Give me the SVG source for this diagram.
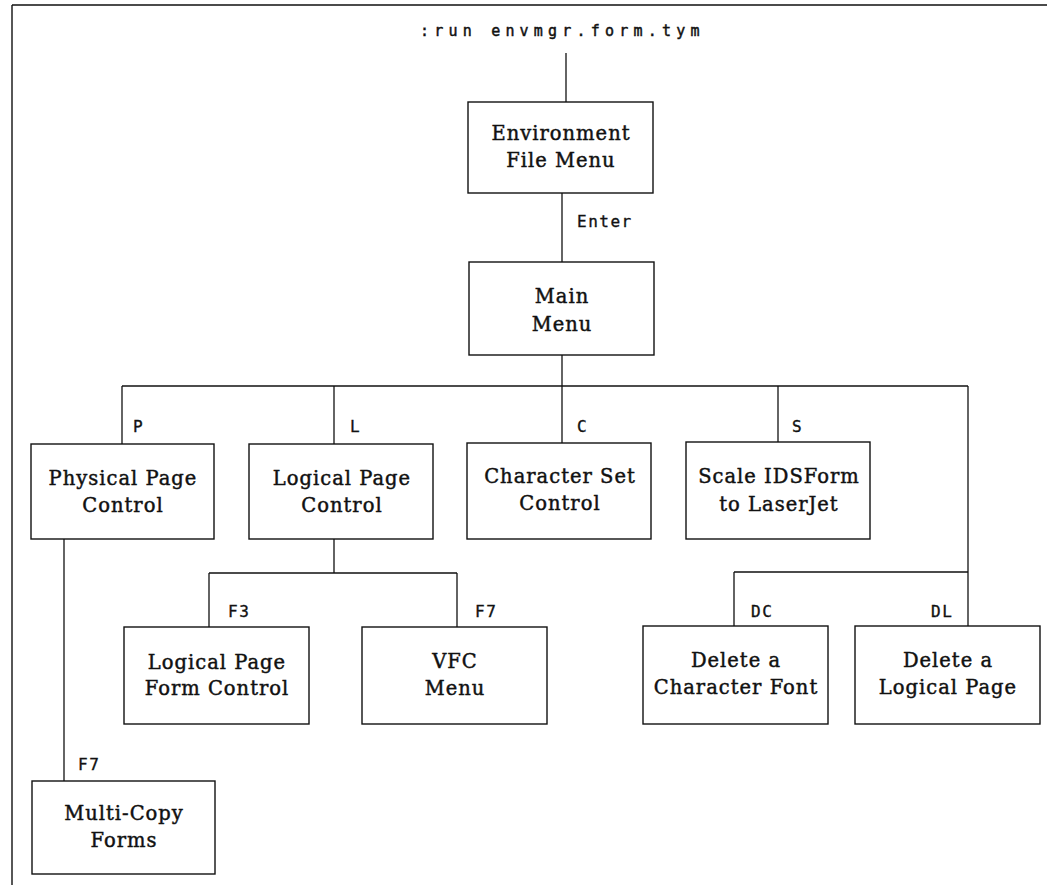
<svg xmlns="http://www.w3.org/2000/svg" width="1047" height="885" viewBox="0 0 1047 885">
<style>
.frame{fill:none;stroke:#111;stroke-width:1.4}
.box{fill:#fff;stroke:#111;stroke-width:1.4}
.conn{fill:none;stroke:#111;stroke-width:1.3}
.node{font-family:"DejaVu Serif","Liberation Serif",serif;font-size:19.5px;letter-spacing:1px;fill:#111;stroke:#111;stroke-width:0.45px;text-anchor:middle}
.lbl{font-family:"DejaVu Sans Mono","Liberation Mono",monospace;font-size:16px;letter-spacing:1.5px;fill:#111;stroke:#111;stroke-width:0.35px}
.title{font-family:"DejaVu Sans Mono","Liberation Mono",monospace;font-size:15px;letter-spacing:5.2px;fill:#111;stroke:#111;stroke-width:0.45px}
</style>
<rect width="1047" height="885" fill="#fff"/>
<path class="frame" d="M12,5 H1047 M12,5 V885"/>
<text class="title" x="420" y="36">:run envmgr.form.tym</text>
<g id="connectors">
<path class="conn" d="M566,53 V102"/>
<path class="conn" d="M562,193 V262"/>
<path class="conn" d="M562,355 V443"/>
<path class="conn" d="M122,386 H968"/>
<path class="conn" d="M122,386 V444"/>
<path class="conn" d="M334,386 V444"/>
<path class="conn" d="M778,386 V442"/>
<path class="conn" d="M968,386 V626"/>
<path class="conn" d="M734,572 H968 M734,572 V626"/>
<path class="conn" d="M64,539 V781"/>
<path class="conn" d="M334,539 V573 M209,573 H457 M209,573 V627 M457,573 V627"/>
<text class="lbl" x="577" y="227">Enter</text>
<text class="lbl" x="133" y="432">P</text>
<text class="lbl" x="350" y="432">L</text>
<text class="lbl" x="577" y="432">C</text>
<text class="lbl" x="792" y="432">S</text>
<text class="lbl" x="228" y="617">F3</text>
<text class="lbl" x="475" y="617">F7</text>
<text class="lbl" x="751" y="617">DC</text>
<text class="lbl" x="931" y="617">DL</text>
<text class="lbl" x="78" y="770">F7</text>
</g>
<g id="env"><rect class="box" x="468" y="102" width="185" height="91"/><text class="node" x="561" y="140">Environment</text><text class="node" x="561" y="167">File Menu</text></g>
<g id="main"><rect class="box" x="469" y="262" width="185" height="93"/><text class="node" x="562" y="303">Main</text><text class="node" x="562" y="331">Menu</text></g>
<g id="physical"><rect class="box" x="31" y="444" width="183" height="95"/><text class="node" x="123" y="485">Physical Page</text><text class="node" x="123" y="512">Control</text></g>
<g id="logical"><rect class="box" x="249" y="444" width="184" height="95"/><text class="node" x="342" y="485">Logical Page</text><text class="node" x="342" y="512">Control</text></g>
<g id="charset"><rect class="box" x="467" y="443" width="184" height="96"/><text class="node" x="560" y="483">Character Set</text><text class="node" x="560" y="510">Control</text></g>
<g id="scale"><rect class="box" x="686" y="442" width="184" height="97"/><text class="node" x="779" y="483">Scale IDSForm</text><text class="node" x="779" y="511">to LaserJet</text></g>
<g id="lpfc"><rect class="box" x="124" y="627" width="185" height="97"/><text class="node" x="217" y="669">Logical Page</text><text class="node" x="217" y="695">Form Control</text></g>
<g id="vfc"><rect class="box" x="362" y="627" width="185" height="97"/><text class="node" x="455" y="668">VFC</text><text class="node" x="455" y="695">Menu</text></g>
<g id="delchar"><rect class="box" x="643" y="626" width="185" height="98"/><text class="node" x="736" y="667">Delete a</text><text class="node" x="736" y="694">Character Font</text></g>
<g id="dellog"><rect class="box" x="855" y="626" width="185" height="98"/><text class="node" x="948" y="667">Delete a</text><text class="node" x="948" y="694">Logical Page</text></g>
<g id="multi"><rect class="box" x="32" y="781" width="183" height="93"/><text class="node" x="124" y="820">Multi-Copy</text><text class="node" x="124" y="847">Forms</text></g>
</svg>
